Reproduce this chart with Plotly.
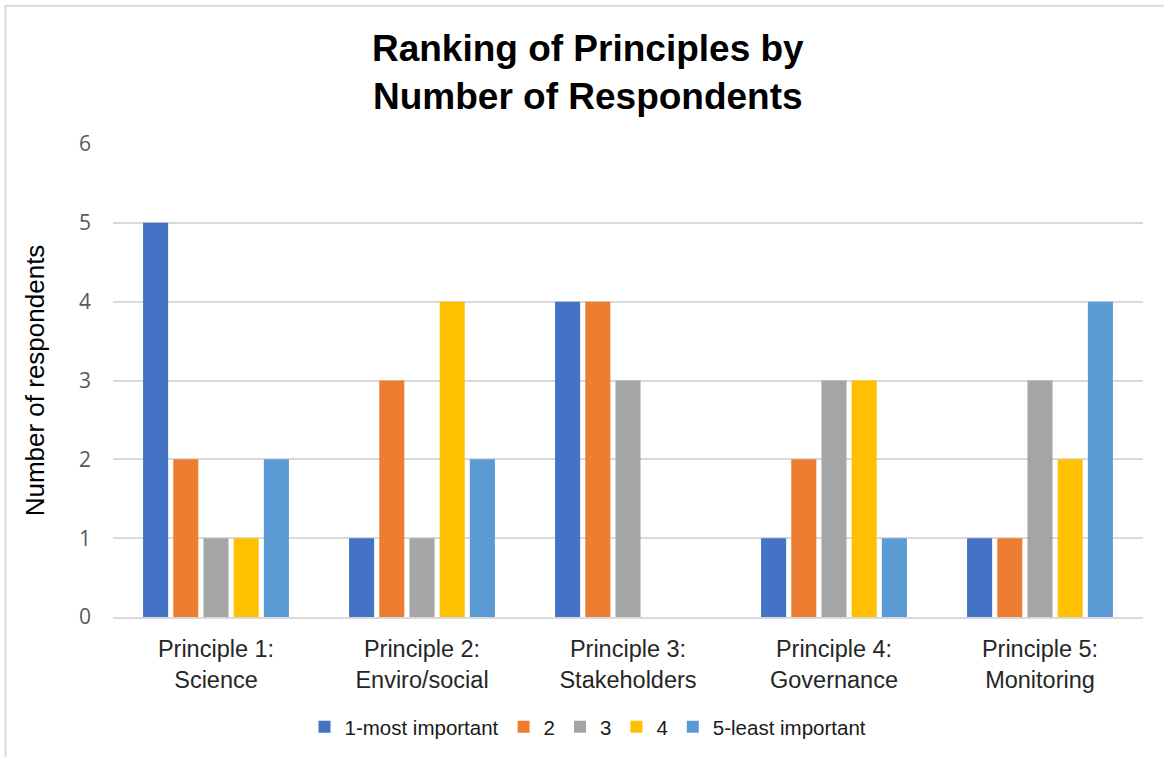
import plotly.graph_objects as go

categories = ["Principle 1:<br>Science", "Principle 2:<br>Enviro/social",
              "Principle 3:<br>Stakeholders", "Principle 4:<br>Governance",
              "Principle 5:<br>Monitoring"]
series_names = ["1-most important", "2", "3", "4", "5-least important"]
rank1 = [5, 1, 4, 1, 1]
rank2 = [2, 3, 4, 2, 1]
rank3 = [1, 1, 3, 3, 3]
rank4 = [1, 4, 0, 3, 2]
rank5 = [2, 2, 0, 1, 4]
series_values = [rank1, rank2, rank3, rank4, rank5]
colors = ["#4472C4", "#ED7D31", "#A5A5A5", "#FFC000", "#5B9BD5"]
y_ticks = [0, 1, 2, 3, 4, 5, 6]

fig = go.Figure()
for name, vals, col in zip(series_names, series_values, colors):
    fig.add_trace(go.Bar(x=categories, y=vals, name=name,
                         marker=dict(color=col, line=dict(width=0))))

W, H = 1164, 758
L, R, T, B = 113, 21, 144, 140
pw, ph = W - L - R, H - T - B

def px_x(x):
    return (x - L) / pw

def px_y(y):
    return (H - B - y) / ph

fig.update_layout(
    width=W, height=H,
    margin=dict(l=L, r=R, t=T, b=B),
    paper_bgcolor="white", plot_bgcolor="white",
    barmode="group", bargap=0.267, bargroupgap=0.17,
    title=dict(text="<b>Ranking of Principles by<br>Number of Respondents</b>",
               x=0.505, xanchor="center", y=0.92, yanchor="middle",
               xref="container", yref="container",
               font=dict(family="Arial, Liberation Sans", size=37, color="#000000")),
    legend=dict(orientation="h", x=px_x(588), xanchor="center",
                y=px_y(727), yanchor="middle",
                font=dict(family="Arial, Liberation Sans", size=20.5, color="#1a1a1a"),
                itemwidth=30, tracegroupgap=0),
    font=dict(family="Arial, Liberation Sans"),
    shapes=[
        dict(type="line", xref="paper", yref="paper",
             x0=px_x(6), x1=px_x(1164), y0=px_y(5.5), y1=px_y(5.5),
             line=dict(color="#D9D9D9", width=2)),
        dict(type="line", xref="paper", yref="paper",
             x0=px_x(5.5), x1=px_x(5.5), y0=px_y(5), y1=px_y(758),
             line=dict(color="#D9D9D9", width=2)),
    ],
)
fig.update_xaxes(showgrid=False, showline=True, linecolor="#D9D9D9", linewidth=1.5,
                 ticks="", ticklabelstandoff=10,
                 tickfont=dict(family="Arial, Liberation Sans", size=23.5, color="#262626"))
fig.update_yaxes(range=[0, 6], tickvals=y_ticks, showgrid=True, gridcolor="#D9D9D9",
                 gridwidth=1.5, zeroline=False, showline=False, ticks="",
                 ticklabelstandoff=21,
                 tickfont=dict(family="Open Sans", size=21, color="#595959"),
                 title=dict(text="Number of respondents", standoff=26,
                            font=dict(family="Arial, Liberation Sans", size=26, color="#000000")))

fig.write_html("out.html")
